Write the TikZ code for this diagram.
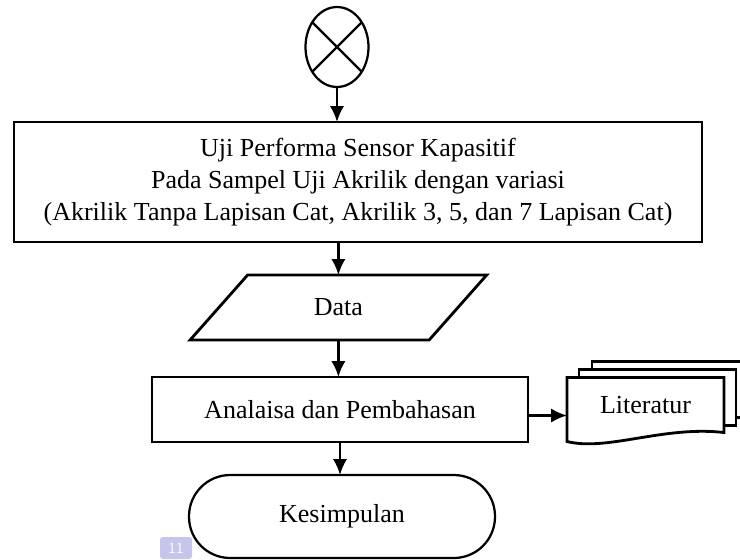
\documentclass[tikz,border=0pt]{standalone}
\usepackage{fontspec}
\setmainfont{Liberation Serif}
\usetikzlibrary{shapes,arrows.meta,positioning,calc}
\definecolor{badge}{HTML}{C6C6EC}
\tikzset{
        block/.style = {draw, fill=white, rectangle, line width=2pt, align=center, inner sep=0pt, outer sep=0pt},
        connector/.style = {draw, ellipse, line width=1.6pt, minimum width=1.575cm, minimum height=2cm, inner sep=0pt, outer sep=0pt},
        io/.style = {draw, trapezium, trapezium left angle=48, trapezium right angle=132, trapezium stretches=true, line width=2pt, minimum width=7.425cm, minimum height=1.625cm, inner sep=0pt, outer sep=0pt},
        terminal/.style = {draw, rectangle, rounded corners=1.03cm, line width=1.6pt, minimum width=7.65cm, minimum height=2.075cm, outer sep=0pt},
        docs/.style = {rectangle, minimum width=3.925cm, minimum height=1.6cm, inner sep=0pt, outer sep=0pt},
        page/.style = {draw, fill=white, line width=2pt},
        line/.style = {line width=1.8pt, -{Latex[length=4mm,width=3.6mm]}},
    }

\begin{document}
\begin{tikzpicture}[node distance=0.85cm, font=\fontsize{18.5}{22.8}\selectfont]
    \useasboundingbox (0,0) rectangle (18.5,-14);

    \node [connector] (start) at (8.425,-1.175) {};
    \draw [line width=1.6pt] (start.45) -- (start.225) (start.135) -- (start.315);
    \node [block, below=0.875cm of start, xshift=0.525cm, minimum width=17.2cm, minimum height=3cm] (uji) {Uji Performa Sensor Kapasitif\\Pada Sampel Uji Akrilik dengan variasi\\(Akrilik Tanpa Lapisan Cat, Akrilik 3, 5, dan 7 Lapisan Cat)};
    \node [io, below=0.825cm of uji, xshift=-0.49cm] (data) {Data};
    \node [block, below=0.925cm of data, xshift=0.04cm, minimum width=9.4cm, minimum height=1.625cm] (ana) {Analaisa dan Pembahasan};
    \node [terminal, below=0.825cm of ana, xshift=0.05cm] (kes) {Kesimpulan};
    \node [docs, right=0.975cm of ana] (lit) {};

    % stacked documents
    \draw [page] ($(lit.north west)+(0.625,0.4)$) rectangle ($(lit.south east)+(0.625,0.6)$);
    \draw [page] ($(lit.north west)+(0.3,0.2)$) rectangle ($(lit.south east)+(0.3,0.4)$);
    \draw [page] (lit.north west) -- (lit.north east) -- ($(lit.south east)+(0,0.225)$)
        .. controls ($(lit.south east)+(-1.5,0.4)$) and ($(lit.south west)+(1.0,-0.25)$) .. (lit.south west) -- cycle;
    \node at ([yshift=0.12cm]lit.center) {Literatur};

    \draw [line] (start.south) -- (start.south |- uji.north);
    \draw [line] (data.north |- uji.south) -- (data.north);
    \draw [line] (data.south) -- (data.south |- ana.north);
    \draw [line] (ana.south) -- (ana.south |- kes.north);
    \draw [line] ([yshift=-0.15cm]ana.east) -- ([yshift=-0.15cm]lit.west);

    \node [fill=badge, text=white, rounded corners=2pt, minimum width=0.8cm, minimum height=0.55cm, inner sep=0pt, font=\sffamily\fontsize{11}{11}\selectfont] (pagenum) at (4.4,-13.7) {11};
\end{tikzpicture}
\end{document}
